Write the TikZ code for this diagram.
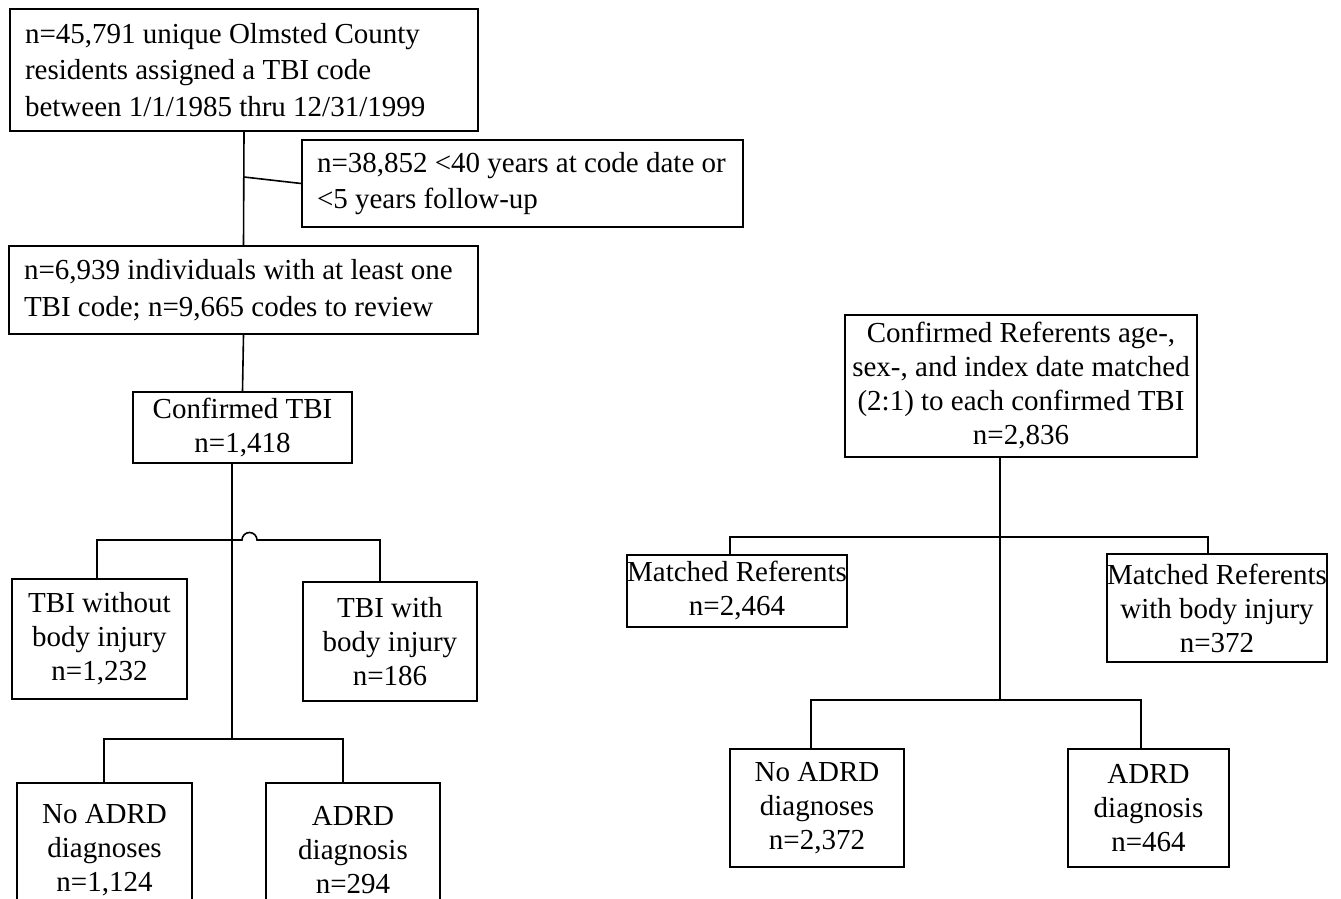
\documentclass[tikz,border=0pt]{standalone}
\usepackage{fontspec}
\setmainfont{Liberation Serif}
\usepackage{tikz}

\begin{document}
\begin{tikzpicture}[x=1pt,y=-1pt,line width=1.6pt,
    font=\fontsize{29}{34}\selectfont,
    box/.style={draw,align=center,inner sep=0pt},
    lbox/.style={draw,align=flush left,inner xsep=15pt,inner ysep=0pt,font=\fontsize{29}{36.5}\selectfont}]
    \useasboundingbox (0,0) rectangle (1341,899);
    % TBI cohort
    \node[lbox,text width=438pt,minimum height=122pt] (all) at (244,70)
      {n=45,791 unique Olmsted County\\residents assigned a TBI code\\between 1/1/1985 thru 12/31/1999};
    \node[lbox,text width=411pt,minimum height=87pt] (excl) at (522.5,183.5)
      {n=38,852 <40 years at code date or\\<5 years follow-up};
    \node[lbox,text width=439pt,minimum height=88pt] (screened) at (243.5,290)
      {n=6,939 individuals with at least one\\TBI code; n=9,665 codes to review};
    \node[box,minimum width=219pt,minimum height=71pt] (tbi) at (242.5,427.5) {Confirmed TBI\\n=1,418};
    \node[box,minimum width=175pt,minimum height=120pt] (nobody) at (99.5,639) {TBI without\\body injury\\n=1,232};
    \node[box,minimum width=174pt,minimum height=119pt] (body) at (390,641.5) {TBI with\\body injury\\n=186};
    \node[box,minimum width=175pt,minimum height=134pt] (noadrdL) at (104.5,850) {No ADRD\\diagnoses\\n=1,124};
    \node[box,minimum width=174pt,minimum height=134pt] (adrdL) at (353,850) {ADRD\\diagnosis\\n=294};
    \coordinate (ex) at (244,177);
    \coordinate (j1) at (232,739);
    \draw (all.south) -- (screened.north);
    \draw (ex) -- (excl.west);
    \draw (screened.south) -- (tbi.north);
    \draw (tbi.south -| j1) -- (j1);
    \draw ([xshift=-2.5pt]nobody.north) |- (242,540) arc (180:360:7.5) -| ([xshift=-10pt]body.north);
    \draw ([xshift=-0.5pt]noadrdL.north) |- (j1) -| ([xshift=-10pt]adrdL.north);
    % referents
    \node[box,minimum width=352pt,minimum height=142pt] (ref) at (1021,386)
      {Confirmed Referents age-,\\sex-, and index date matched\\(2:1) to each confirmed TBI\\n=2,836};
    \node[box,minimum width=218pt,minimum height=72pt] (matched) at (737,591) {Matched Referents\\n=2,464};
    \node[box,minimum width=218pt,minimum height=108pt] (matchedbody) at (1217,608)
      {Matched Referents\\with body injury\\n=372};
    \node[box,minimum width=174pt,minimum height=118pt] (noadrdR) at (817,808) {No ADRD\\diagnoses\\n=2,372};
    \node[box,minimum width=161pt,minimum height=118pt] (adrdR) at (1148.5,808) {ADRD\\diagnosis\\n=464};
    \coordinate (j2) at (1000,537);
    \coordinate (j3) at (1000,700);
    \draw ([xshift=-21pt]ref.south) -- (j3);
    \draw ([xshift=-7pt]matched.north) |- (j2) -| ([xshift=-9pt]matchedbody.north);
    \draw ([xshift=-6pt]noadrdR.north) |- (j3) -| ([xshift=-7.5pt]adrdR.north);
\end{tikzpicture}
\end{document}
